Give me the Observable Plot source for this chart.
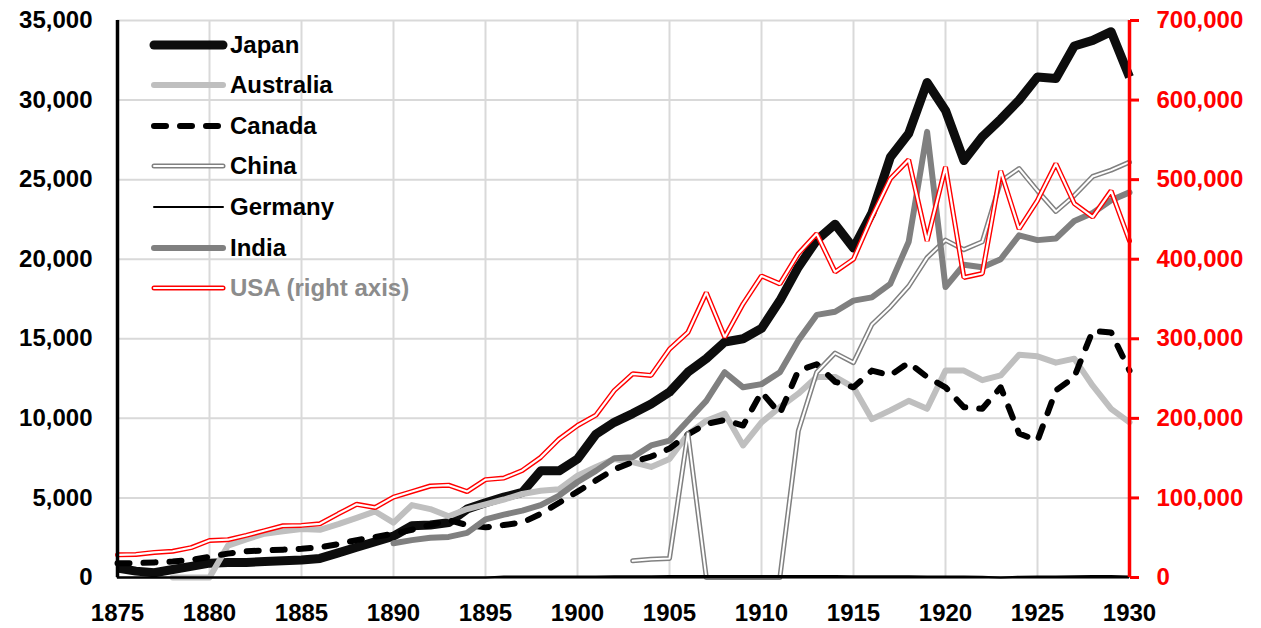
<!DOCTYPE html>
<html>
<head>
<meta charset="utf-8">
<script src="https://cdn.jsdelivr.net/npm/d3@7"></script>
<script src="https://cdn.jsdelivr.net/npm/@observablehq/plot@0.6"></script>
<style>
  html, body { margin: 0; padding: 0; background: #fff; }
  #wrap { position: relative; width: 1261px; height: 628px; }
  #legend { position: absolute; left: 0; top: 0; pointer-events: none; }
</style>
</head>
<body>
<div id="wrap"></div>
<script>
// ---- data ----
const years = d3.range(1875, 1931);
const japan = [600,400,300,500,700,900,950,950,1000,1050,1100,1200,1550,1900,2250,2600,3250,3300,3450,4300,4700,5050,5350,6700,6700,7450,9000,9750,10300,10900,11650,12900,13750,14800,15000,15650,17400,19500,21200,22200,20700,22900,26400,27900,31100,29350,26200,27700,28800,30000,31450,31350,33400,33750,34300,31450];
const australia = [null,null,null,0,0,0,2000,2400,2750,2900,3050,3000,3350,3750,4150,3450,4550,4300,3850,4300,4600,4900,5250,5450,5550,6400,6950,7450,7250,6950,7450,9000,9850,10300,8300,9750,10700,11550,12600,12600,11950,9950,10500,11100,10600,13000,13000,12400,12700,14000,13900,13500,13750,12050,10600,9750];
const canada = [900,900,950,1000,1100,1300,1500,1650,1700,1750,1800,1900,2100,2350,2550,2750,3000,3300,3600,3300,3150,3300,3450,4000,4700,5400,6100,6800,7250,7600,8100,9000,9650,9900,9550,11650,10300,13000,13400,12300,11950,13000,12700,13500,12600,11950,10700,10600,11950,9050,8600,11750,12600,15500,15400,13000];
const china = [null,null,null,null,null,null,null,null,null,null,null,null,null,null,null,null,null,null,null,null,null,null,null,null,null,null,null,null,1050,1150,1200,9050,0,0,0,0,0,9200,12900,14100,13500,15900,17000,18300,20100,21200,20600,21100,24900,25700,24300,23000,24000,25200,25600,26100];
const germany = [0,0,0,0,0,0,0,0,0,0,0,0,0,0,0,0,0,0,0,0,0,60,60,60,60,60,70,80,80,80,90,90,100,100,100,100,100,100,100,100,80,80,80,80,60,60,60,40,0,50,60,60,80,90,90,60];
const india = [null,null,null,null,null,null,null,null,null,null,null,null,null,null,null,2150,2350,2500,2550,2800,3650,3950,4200,4550,5150,6000,6700,7500,7550,8300,8600,9850,11100,12900,11950,12150,12900,14900,16500,16700,17400,17600,18450,21100,28000,18250,19650,19500,20000,21500,21200,21300,22400,22900,23700,24200];
const usa = [28500,29000,31500,33000,37500,46500,47500,53000,59000,65000,65500,67500,80000,92000,88000,101000,108000,115000,116000,108000,123000,125000,134500,151000,174000,191000,204000,235000,256000,254000,287000,308000,358000,302000,344000,379000,369000,407000,432000,384000,400000,453000,501000,525000,423000,516000,377000,382000,511000,438000,474000,520000,470000,453000,486000,423000];
const leftTicks = [0,5000,10000,15000,20000,25000,30000,35000];
const rightTicks = [0,100000,200000,300000,400000,500000,600000,700000];
const xTicks = [1875,1880,1885,1890,1895,1900,1905,1910,1915,1920,1925,1930];
const seriesNames = ["Japan","Australia","Canada","China","Germany","India","USA (right axis)"];
const RATIO = 20; // right axis = left axis * 20

const rows = (arr, scale = 1) => years.map((yr, i) => ({year: yr, v: arr[i] == null ? null : arr[i] / scale})).filter(d => d.v != null);

const FONT = "'Liberation Sans', Arial, sans-serif";

const chart = Plot.plot({
  width: 1261,
  height: 628,
  marginLeft: 117,
  marginRight: 132,
  marginTop: 20,
  marginBottom: 51,
  style: {fontFamily: FONT, fontSize: "24px", fontWeight: "bold", background: "#fff", overflow: "visible"},
  x: {domain: [1875, 1930], label: null},
  y: {domain: [0, 35000], label: null},
  marks: [
    Plot.gridX(xTicks, {stroke: "#d9d9d9", strokeOpacity: 1, strokeWidth: 2}),
    Plot.gridY(leftTicks, {stroke: "#d9d9d9", strokeOpacity: 1, strokeWidth: 2}),
    Plot.line(rows(japan), {x: "year", y: "v", stroke: "#0d0d0d", strokeWidth: 9, strokeLinejoin: "round", strokeLinecap: "butt"}),
    Plot.line(rows(australia), {x: "year", y: "v", stroke: "#bfbfbf", strokeWidth: 6, strokeLinejoin: "round"}),
    Plot.line(rows(canada), {x: "year", y: "v", stroke: "#000", strokeWidth: 6, strokeDasharray: "12,14", strokeLinecap: "round", strokeLinejoin: "round"}),
    Plot.line(rows(china), {x: "year", y: "v", stroke: "#808080", strokeWidth: 5, strokeLinejoin: "round"}),
    Plot.line(rows(china), {x: "year", y: "v", stroke: "#fff", strokeWidth: 2, strokeLinejoin: "round"}),
    Plot.line(rows(germany), {x: "year", y: "v", stroke: "#000", strokeWidth: 2}),
    Plot.line(rows(india), {x: "year", y: "v", stroke: "#808080", strokeWidth: 6, strokeLinejoin: "round"}),
    Plot.line(rows(usa, RATIO), {x: "year", y: "v", stroke: "#ff0000", strokeWidth: 5, strokeLinejoin: "miter"}),
    Plot.line(rows(usa, RATIO), {x: "year", y: "v", stroke: "#fff", strokeWidth: 2.2, strokeLinejoin: "miter"}),
    Plot.ruleY([0], {stroke: "#000", strokeWidth: 2}),
    Plot.ruleX([1875], {stroke: "#000", strokeWidth: 3.5}),
    Plot.ruleX([1930], {stroke: "#ff0000", strokeWidth: 3.5}),
    Plot.axisY(leftTicks, {anchor: "left", label: null, tickSize: 0, tickPadding: 25, tickFormat: d3.format(","), fontSize: 24, fontWeight: "bold", fill: "#000"}),
    Plot.axisY(rightTicks.map(d => d / RATIO), {anchor: "right", label: null, tickSize: 9, tickPadding: 18, stroke: "#ff0000", strokeWidth: 3, tickFormat: d => d3.format(",")(d * RATIO), fontSize: 24, fontWeight: "bold", fill: "#ff0000"}),
    Plot.axisX(xTicks, {anchor: "bottom", label: null, tickSize: 0, tickPadding: 26, tickFormat: d => String(d), fontSize: 24, fontWeight: "bold", fill: "#000"})
  ]
});

const wrap = document.getElementById("wrap");
wrap.appendChild(chart);

// ---- legend overlay ----
const legendStyles = [
  {w: 9, c: "#0d0d0d"},
  {w: 6, c: "#bfbfbf"},
  {w: 6, c: "#000", dash: "12,14"},
  {w: 5, c: "#808080", inner: 2},
  {w: 2, c: "#000"},
  {w: 6, c: "#808080"},
  {w: 5, c: "#ff0000", inner: 2.2}
];
const rowY = [45, 85, 126, 166, 207, 248, 288];
const svg = d3.select(wrap).append("svg").attr("id", "legend").attr("width", 1261).attr("height", 628);
seriesNames.forEach((name, i) => {
  const s = legendStyles[i];
  const y = rowY[i];
  svg.append("line").attr("x1", 154).attr("x2", 223).attr("y1", y).attr("y2", y)
    .attr("stroke", s.c).attr("stroke-width", s.w).attr("stroke-linecap", "round")
    .attr("stroke-dasharray", s.dash || null);
  if (s.inner) {
    svg.append("line").attr("x1", 154).attr("x2", 223).attr("y1", y).attr("y2", y)
      .attr("stroke", "#fff").attr("stroke-width", s.inner).attr("stroke-linecap", "round");
  }
  svg.append("text").attr("x", 230).attr("y", y).attr("dy", "0.35em")
    .attr("font-family", FONT).attr("font-size", 24).attr("font-weight", "bold")
    .attr("fill", i === 6 ? "#8c8c8c" : "#000").text(name);
});
</script>
</body>
</html>
